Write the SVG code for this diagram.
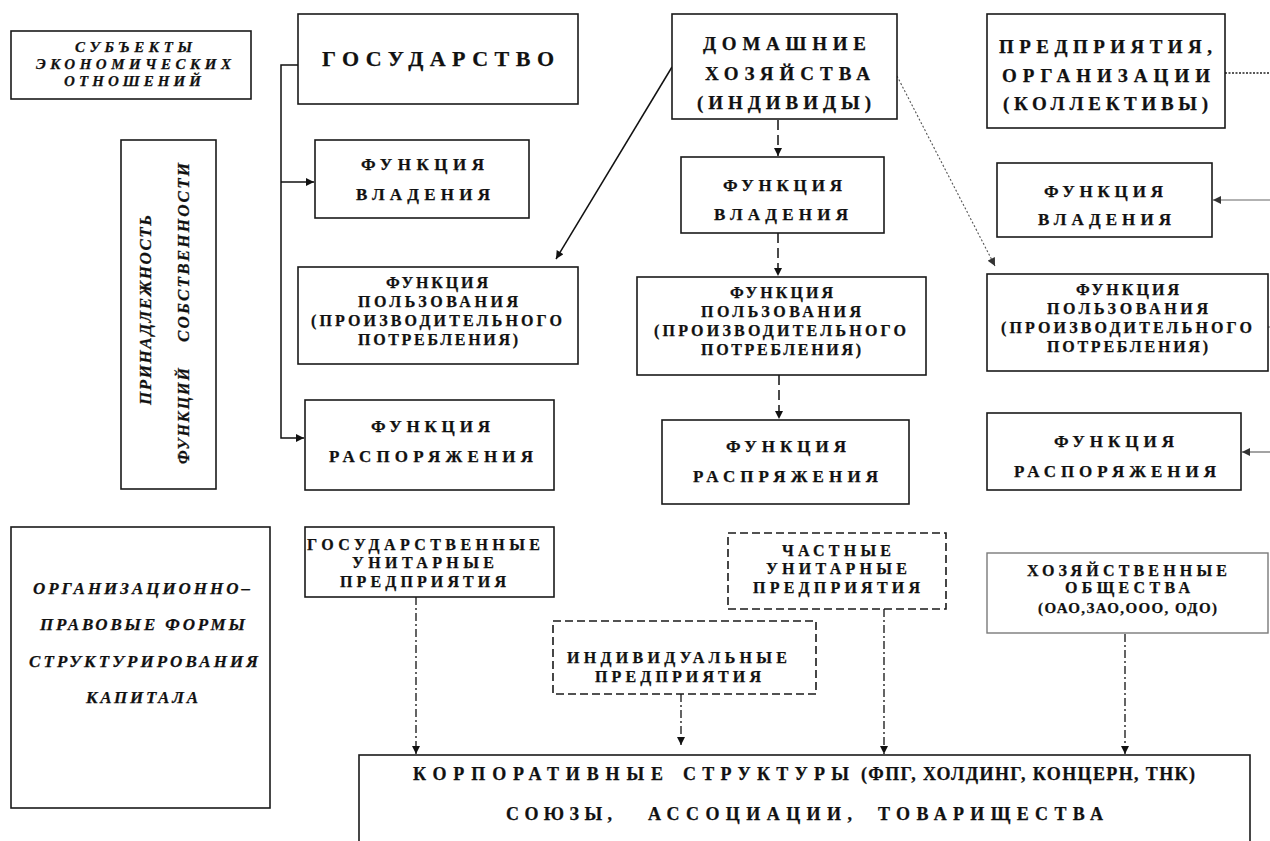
<svg xmlns="http://www.w3.org/2000/svg" width="1270" height="841" viewBox="0 0 1270 841" font-family="'Liberation Serif','DejaVu Serif','Times New Roman',serif">
<style>
.b{fill:#fff;stroke:#1a1a1a;stroke-width:1.6}
.bd{fill:#fff;stroke:#1a1a1a;stroke-width:1.6;stroke-dasharray:8 4}
.bg{fill:#fff;stroke:#7a7a7a;stroke-width:1.4}
text{font-family:"Liberation Serif","DejaVu Serif","Times New Roman",serif;font-weight:bold;fill:#111;stroke:#111;stroke-width:0.25}
.i{font-style:italic}
.s15{font-size:15px}
.s16{font-size:16px}
.s17{font-size:17px}
.s18{font-size:18px}
.s19{font-size:19px}
.s22{font-size:22px}
.c{fill:none;stroke:#111;stroke-width:1.5}
.dash{fill:none;stroke:#111;stroke-width:1.5;stroke-dasharray:10 5}
.dd{fill:none;stroke:#111;stroke-width:1.3;stroke-dasharray:8 3 2 3}
.dot{fill:none;stroke:#555;stroke-width:1.1;stroke-dasharray:2 2}
.dotk{fill:none;stroke:#222;stroke-width:1.5;stroke-dasharray:2 1.5}
.g{fill:none;stroke:#666;stroke-width:1.2}
</style>
<defs>
<marker id="ah" viewBox="0 0 10 10" refX="10" refY="5" markerWidth="9" markerHeight="8" markerUnits="userSpaceOnUse" orient="auto">
<path d="M0,0 L10,5 L0,10 z" fill="#111"/>
</marker>
<marker id="ahg" viewBox="0 0 10 10" refX="10" refY="5" markerWidth="9" markerHeight="8" markerUnits="userSpaceOnUse" orient="auto">
<path d="M0,0 L10,5 L0,10 z" fill="#333"/>
</marker>
</defs>
<rect width="1270" height="841" fill="#fff"/>

<g id="connectors">
<path class="c" d="M298,65 H281 V438 H304" marker-end="url(#ah)"/>
<path class="c" d="M281,182 H314" marker-end="url(#ah)"/>
<path class="c" d="M672,67 L556,259" marker-end="url(#ah)"/>
<path class="dot" d="M897,76 L995,266" marker-end="url(#ahg)"/>
<path class="dash" d="M778,120 V156" marker-end="url(#ah)"/>
<path class="dash" d="M778,233 V276" marker-end="url(#ah)"/>
<path class="dash" d="M779,375 V419" marker-end="url(#ah)"/>
<path class="dotk" d="M1225,73 H1270"/>
<path class="g" d="M1270,200 H1213" marker-end="url(#ahg)"/>
<path class="g" d="M1270,452 H1242" marker-end="url(#ahg)"/>
<path class="g" d="M1268,327 H1270"/>
<path class="dd" d="M416,597 V754" marker-end="url(#ah)"/>
<path class="dd" d="M681,694 V745" marker-end="url(#ah)"/>
<path class="dd" d="M884,609 V754" marker-end="url(#ah)"/>
<path class="dd" d="M1125,634 V754" marker-end="url(#ah)"/>
</g>

<g id="subjects">
<rect class="b" x="11" y="31" width="240" height="68"/>
<text class="i s15" x="75" y="52" textLength="117">СУБЪЕКТЫ</text>
<text class="i s15" x="36" y="69" textLength="195">ЭКОНОМИЧЕСКИХ</text>
<text class="i s15" x="64" y="86" textLength="137">ОТНОШЕНИЙ</text>
</g>

<g id="state">
<rect class="b" x="298" y="14" width="280" height="90"/>
<text class="s22" x="322" y="66" textLength="232">ГОСУДАРСТВО</text>
</g>

<g id="households">
<rect class="b" x="672" y="14" width="225" height="105"/>
<text class="s19" x="703" y="50" textLength="163">ДОМАШНИЕ</text>
<text class="s19" x="705" y="80" textLength="165">ХОЗЯЙСТВА</text>
<text class="s19" x="697" y="109" textLength="174">(ИНДИВИДЫ)</text>
</g>

<g id="enterprises">
<rect class="b" x="987" y="14" width="238" height="114"/>
<text class="s19" x="999" y="53" textLength="213">ПРЕДПРИЯТИЯ,</text>
<text class="s19" x="1002" y="82" textLength="208">ОРГАНИЗАЦИИ</text>
<text class="s19" x="1003" y="110" textLength="205">(КОЛЛЕКТИВЫ)</text>
</g>

<g id="ownership">
<rect class="b" x="121" y="140" width="95" height="349"/>
<text class="i s17" transform="translate(151,405) rotate(-90)" x="0" y="0" textLength="190">ПРИНАДЛЕЖНОСТЬ</text>
<text class="i s16" transform="translate(189,464) rotate(-90)" x="0" y="0" textLength="96">ФУНКЦИЙ</text>
<text class="i s17" transform="translate(189,342) rotate(-90)" x="0" y="0" textLength="179">СОБСТВЕННОСТИ</text>
</g>

<g id="state-possession">
<rect class="b" x="315" y="140" width="214" height="78"/>
<text class="s17" x="361" y="170" textLength="123">ФУНКЦИЯ</text>
<text class="s17" x="356" y="200" textLength="134">ВЛАДЕНИЯ</text>
</g>

<g id="state-use">
<rect class="b" x="298" y="267" width="280" height="97"/>
<text class="s16" x="386" y="288" textLength="102">ФУНКЦИЯ</text>
<text class="s16" x="358" y="307" textLength="160">ПОЛЬЗОВАНИЯ</text>
<text class="s16" x="311" y="326" textLength="251">(ПРОИЗВОДИТЕЛЬНОГО</text>
<text class="s16" x="358" y="345" textLength="160">ПОТРЕБЛЕНИЯ)</text>
</g>

<g id="state-disposal">
<rect class="b" x="305" y="400" width="249" height="90"/>
<text class="s17" x="371" y="432" textLength="119">ФУНКЦИЯ</text>
<text class="s17" x="329" y="462" textLength="204">РАСПОРЯЖЕНИЯ</text>
</g>

<g id="hh-possession">
<rect class="b" x="681" y="157" width="203" height="76"/>
<text class="s17" x="723" y="191" textLength="119">ФУНКЦИЯ</text>
<text class="s17" x="714" y="220" textLength="134">ВЛАДЕНИЯ</text>
</g>

<g id="hh-use">
<rect class="b" x="637" y="277" width="289" height="98"/>
<text class="s16" x="730" y="298" textLength="103">ФУНКЦИЯ</text>
<text class="s16" x="701" y="317" textLength="160">ПОЛЬЗОВАНИЯ</text>
<text class="s16" x="654" y="336" textLength="252">(ПРОИЗВОДИТЕЛЬНОГО</text>
<text class="s16" x="701" y="355" textLength="160">ПОТРЕБЛЕНИЯ)</text>
</g>

<g id="hh-disposal">
<rect class="b" x="662" y="420" width="247" height="84"/>
<text class="s17" x="726" y="452" textLength="120">ФУНКЦИЯ</text>
<text class="s17" x="693" y="482" textLength="185">РАСПРЯЖЕНИЯ</text>
</g>

<g id="ent-possession">
<rect class="b" x="997" y="163" width="215" height="74"/>
<text class="s17" x="1044" y="197" textLength="119">ФУНКЦИЯ</text>
<text class="s17" x="1038" y="225" textLength="133">ВЛАДЕНИЯ</text>
</g>

<g id="ent-use">
<rect class="b" x="987" y="274" width="281" height="97"/>
<text class="s16" x="1076" y="295" textLength="103">ФУНКЦИЯ</text>
<text class="s16" x="1047" y="314" textLength="161">ПОЛЬЗОВАНИЯ</text>
<text class="s16" x="1001" y="333" textLength="251">(ПРОИЗВОДИТЕЛЬНОГО</text>
<text class="s16" x="1047" y="352" textLength="161">ПОТРЕБЛЕНИЯ)</text>
</g>

<g id="ent-disposal">
<rect class="b" x="987" y="413" width="254" height="77"/>
<text class="s17" x="1054" y="447" textLength="120">ФУНКЦИЯ</text>
<text class="s17" x="1014" y="477" textLength="202">РАСПОРЯЖЕНИЯ</text>
</g>

<g id="legal-forms">
<rect class="b" x="11" y="527" width="259" height="281"/>
<text class="i s17" x="33" y="594" textLength="217">ОРГАНИЗАЦИОННО–</text>
<text class="i s17" x="40" y="630" textLength="205">ПРАВОВЫЕ ФОРМЫ</text>
<text class="i s17" x="29" y="667" textLength="229">СТРУКТУРИРОВАНИЯ</text>
<text class="i s17" x="86" y="703" textLength="112">КАПИТАЛА</text>
</g>

<g id="state-unitary">
<rect class="b" x="305" y="527" width="249" height="70"/>
<text class="s16" x="307" y="550" textLength="233">ГОСУДАРСТВЕННЫЕ</text>
<text class="s16" x="352" y="568" textLength="142">УНИТАРНЫЕ</text>
<text class="s16" x="340" y="587" textLength="166">ПРЕДПРИЯТИЯ</text>
</g>

<g id="private-unitary">
<rect class="bd" x="728" y="533" width="218" height="76"/>
<text class="s16" x="782" y="556" textLength="109">ЧАСТНЫЕ</text>
<text class="s16" x="766" y="574" textLength="141">УНИТАРНЫЕ</text>
<text class="s16" x="753" y="593" textLength="167">ПРЕДПРИЯТИЯ</text>
</g>

<g id="individual">
<rect class="bd" x="553" y="621" width="263" height="73"/>
<text class="s16" x="567" y="663" textLength="220">ИНДИВИДУАЛЬНЫЕ</text>
<text class="s16" x="595" y="682" textLength="166">ПРЕДПРИЯТИЯ</text>
</g>

<g id="companies">
<rect class="bg" x="987" y="553" width="281" height="80"/>
<text class="s16" x="1027" y="576" textLength="200">ХОЗЯЙСТВЕННЫЕ</text>
<text class="s16" x="1065" y="593" textLength="125">ОБЩЕСТВА</text>
<text class="s15" x="1038" y="613" textLength="179">(ОАО,ЗАО,ООО, ОДО)</text>
</g>

<g id="corporate">
<rect class="b" x="359" y="755" width="891" height="100"/>
<text class="s18" x="413" y="780" textLength="250">КОРПОРАТИВНЫЕ</text>
<text class="s18" x="683" y="780" textLength="166">СТРУКТУРЫ</text>
<text class="s18" x="861" y="780" textLength="334">(ФПГ, ХОЛДИНГ, КОНЦЕРН, ТНК)</text>
<text class="s18" x="506" y="820" textLength="106">СОЮЗЫ,</text>
<text class="s18" x="648" y="820" textLength="204">АССОЦИАЦИИ,</text>
<text class="s18" x="878" y="820" textLength="225">ТОВАРИЩЕСТВА</text>
</g>
</svg>
